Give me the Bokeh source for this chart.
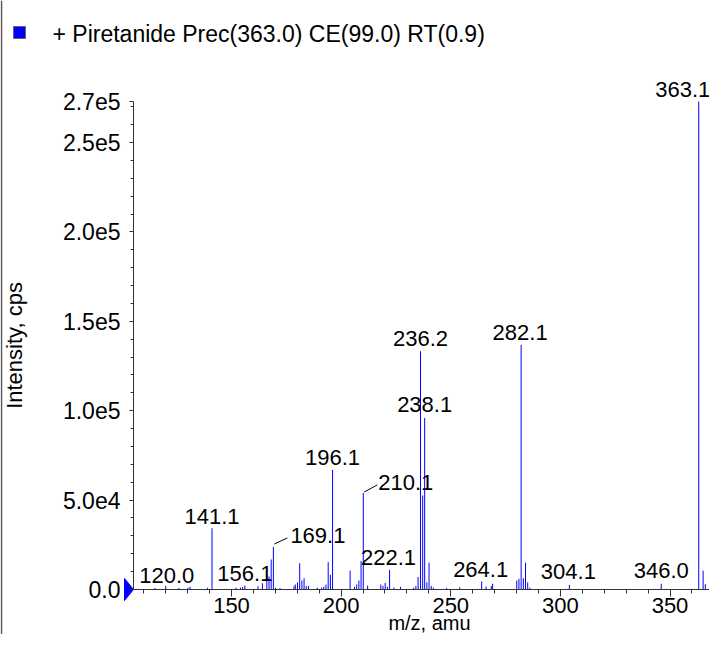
from bokeh.plotting import figure
from bokeh.models import FixedTicker, Range1d, ColumnDataSource
from bokeh.embed import file_html
from bokeh.resources import INLINE

# ---------------- data ----------------
mz = [115.1, 120.0, 126.0, 130.1, 131.1, 139.1, 141.1, 152.1, 154.1, 155.1, 156.1,
      162.1, 164.1, 166.1, 167.1, 168.1, 169.1, 170.1, 172.1, 178.5, 179.1, 180.1,
      181.1, 182.1, 183.1, 184.1, 185.1, 189.1, 191.1, 192.1, 193.1, 194.1, 195.1,
      196.1, 204.1, 206.1, 207.1, 208.1, 209.1, 210.1, 212.1, 218.1, 219.1, 220.1,
      221.1, 222.1, 224.1, 227.1, 233.1, 234.1, 235.1, 236.2, 237.2, 238.1, 239.1,
      240.1, 241.1, 242.1, 248.1, 254.1, 264.1, 266.1, 268.5, 269.1, 280.1, 281.1,
      282.1, 283.1, 284.1, 285.1, 286.1, 304.1, 346.0, 363.1, 365.1, 366.1]
intensity = [800, 2000, 800, 1000, 1500, 1000, 34300, 1000, 1000, 1500, 2200,
             1800, 3500, 6900, 7300, 16800, 23800, 1000, 800, 1800, 2800, 4000,
             14700, 5000, 6300, 2000, 2000, 1000, 1000, 1500, 2800, 15300, 8200,
             66900, 10600, 1500, 2800, 5000, 16000, 54000, 2200, 2800, 2000, 3700,
             1500, 11000, 1000, 1500, 1000, 2000, 7000, 133300, 52600, 96000, 4000,
             15000, 2000, 1000, 800, 1200, 4500, 1700, 2000, 3200, 5000, 6000,
             136900, 6300, 15000, 4000, 1000, 2600, 3200, 273000, 10600, 3000]

label_mz = [120.0, 141.1, 156.1, 169.1, 196.1, 210.1, 222.1, 236.2, 238.1,
            264.1, 282.1, 304.1, 346.0, 363.1]
label_text = ["120.0", "141.1", "156.1", "169.1", "196.1", "210.1", "222.1", "236.2",
              "238.1", "264.1", "282.1", "304.1", "346.0", "363.1"]

x_ticks = [150, 200, 250, 300, 350]
x_minor = [110, 120, 130, 140, 160, 170, 180, 190, 210, 220, 230, 240, 260, 270,
           280, 290, 310, 320, 330, 340, 360, 370]
y_max = 273000
y_ticks = [0, 50000, 100000, 150000, 200000, 250000, y_max]
y_tick_labels = ["0.0", "5.0e4", "1.0e5", "1.5e5", "2.0e5", "2.5e5", "2.7e5"]
y_minor = [v * 10000 for v in range(1, 28) if v % 5 != 0]

legend_text = "+ Piretanide Prec(363.0) CE(99.0) RT(0.9)"
x_label = "m/z, amu"
y_label = "Intensity, cps"

# ---------------- layout / style ----------------
W, H = 709, 634
FONT = "Liberation Sans"
BLUE = "#0000FF"
AX = "#333333"
axis_left_px = 133        # canvas x of the y axis
axis_bottom_px = 589      # canvas y of the zero line
axis_top_px = 101         # canvas y of the y-axis top
tick150_px = 231          # canvas x of m/z 150
px_x = 2.1925             # pixels per m/z unit
MID = 0.36                # baseline -> text-middle shift, in em

px_y = (axis_bottom_px - axis_top_px) / y_max
x_lo = 150 - tick150_px / px_x
x_hi = 150 + (W - tick150_px) / px_x
x_axis_start = 150 - (tick150_px - axis_left_px) / px_x
y_lo = -(H - axis_bottom_px) / px_y
y_hi = axis_bottom_px / px_y


def cx(px):
    return x_lo + px / px_x


def cy(py):
    return y_hi - py / px_y


p = figure(width=W, height=H, output_backend="svg", toolbar_location=None,
           x_range=Range1d(x_lo, x_hi), y_range=Range1d(y_lo, y_hi),
           min_border_left=0, min_border_right=0, min_border_top=0, min_border_bottom=0)
p.outline_line_color = None
p.xgrid.grid_line_color = None
p.ygrid.grid_line_color = None
p.background_fill_color = "white"
p.border_fill_color = "white"

# panel border on the left
p.segment(x0=[cx(1)], y0=[cy(0)], x1=[cx(1)], y1=[cy(H)], line_color="#555555", line_width=1.5)

# peaks
src = ColumnDataSource(dict(x=mz, y0=[0] * len(mz), y1=intensity))
p.segment(x0="x", y0="y0", x1="x", y1="y1", source=src, line_color=BLUE, line_width=1)

# peak labels (offsets give the text baseline relative to the peak top)
LAB_SIZE = 22
lab_dx = [1, 0, 0, 17, 0, 15, -1, 0, 0, -1, -1, -1, 0, -16]
lab_dy = [-3, -4, -4, -4, -4, -3, -4, -5, -5, -4, -4, -5, -5, -4]
lab_align = ["center", "center", "center", "left", "center", "left", "center", "center",
             "center", "center", "center", "center", "center", "center"]
inten_map = dict(zip(mz, intensity))
lab_y = [inten_map[m] for m in label_mz]
lab_mid_dy = [d - MID * LAB_SIZE for d in lab_dy]
lsrc = ColumnDataSource(dict(x=label_mz, y=lab_y, t=label_text, dx=lab_dx, dy=lab_mid_dy,
                             al=lab_align))
p.text(x="x", y="y", text="t", x_offset="dx", y_offset="dy", text_align="al",
       text_baseline="middle", source=lsrc,
       text_font={"value": FONT}, text_font_size=f"{LAB_SIZE}px", text_color="black")

# leader lines for offset labels (pixel offsets converted to data units)
leader_idx = [3, 5]
leader_px = [((1, -3), (14, -9)), ((1, -1), (14, -8))]
lx0, ly0, lx1, ly1 = [], [], [], []
for i, ((ax, ay), (bx, by)) in zip(leader_idx, leader_px):
    lx0.append(label_mz[i] + ax / px_x)
    ly0.append(lab_y[i] - ay / px_y)
    lx1.append(label_mz[i] + bx / px_x)
    ly1.append(lab_y[i] - by / px_y)
p.segment(x0=lx0, y0=ly0, x1=lx1, y1=ly1, line_color="black", line_width=1)

# axes (drawn at fixed data locations inside the full-canvas frame)
xa = p.xaxis[0]
xa.fixed_location = 0
xa.ticker = FixedTicker(ticks=x_ticks, minor_ticks=x_minor)
xa.bounds = (x_axis_start, x_hi)
xa.major_label_text_font = FONT
xa.major_label_text_font_size = "22px"
xa.major_label_text_color = "black"
xa.major_label_standoff = 1
xa.major_tick_out = 7
xa.major_tick_in = 0
xa.minor_tick_out = 4
xa.minor_tick_in = 0
xa.axis_line_color = AX
xa.major_tick_line_color = AX
xa.minor_tick_line_color = AX

ya = p.yaxis[0]
ya.fixed_location = x_axis_start
ya.ticker = FixedTicker(ticks=y_ticks, minor_ticks=y_minor)
ya.major_label_overrides = {v: s for v, s in zip(y_ticks, y_tick_labels)}
ya.bounds = (0, y_max)
ya.axis_label = y_label
ya.axis_label_text_font = FONT
ya.axis_label_text_font_size = "22px"
ya.axis_label_text_font_style = "normal"
ya.axis_label_text_color = "black"
ya.axis_label_standoff = 33
ya.major_label_text_font = FONT
ya.major_label_text_font_size = "23px"
ya.major_label_text_color = "black"
ya.major_label_standoff = 9
ya.major_tick_out = 4
ya.major_tick_in = 0
ya.minor_tick_out = 3
ya.minor_tick_in = 0
ya.axis_line_color = AX
ya.major_tick_line_color = AX
ya.minor_tick_line_color = AX

# x axis title (text glyph so it stays inside the canvas)
XL_SIZE = 20
p.text(x=[cx(429)], y=[cy(629.5 - MID * XL_SIZE)], text=[x_label], text_align="center",
       text_baseline="middle", text_font={"value": FONT}, text_font_size=f"{XL_SIZE}px",
       text_color="black")

# zero-level marker (blue triangle left of the axis)
p.patch(x=[cx(axis_left_px - 9), cx(axis_left_px), cx(axis_left_px - 9)],
        y=[cy(axis_bottom_px - 11), cy(axis_bottom_px), cy(axis_bottom_px + 11)],
        fill_color=BLUE, line_color=BLUE)

# legend
LEG_SIZE = 23
p.quad(left=cx(13), right=cx(25), top=cy(26), bottom=cy(38),
       fill_color=BLUE, line_color="#666666", line_width=1)
p.text(x=[cx(52)], y=[cy(33)], text=[legend_text], text_align="left",
       text_baseline="middle", text_font={"value": FONT}, text_font_size=f"{LEG_SIZE}px",
       text_color="black")

open("out.html", "w").write(file_html(p, INLINE))
